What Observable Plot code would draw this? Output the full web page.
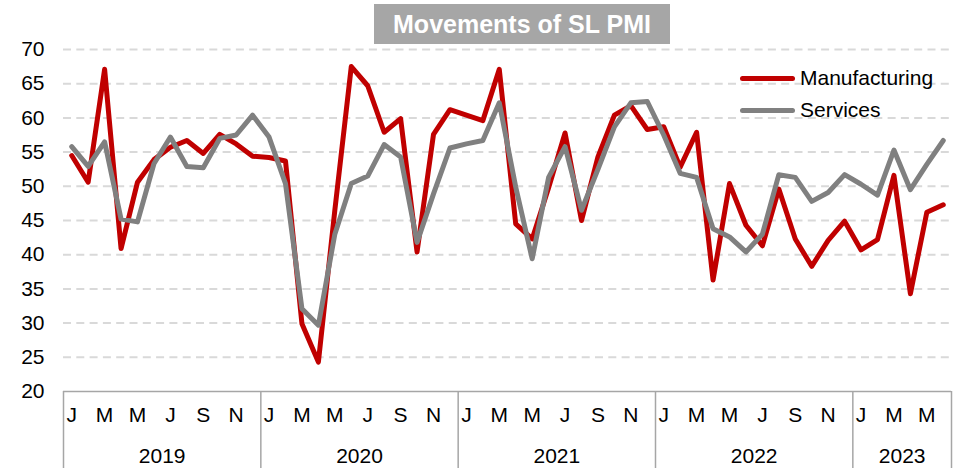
<!DOCTYPE html>
<html>
<head>
<meta charset="utf-8">
<script src="https://cdn.jsdelivr.net/npm/d3@7"></script>
<script src="https://cdn.jsdelivr.net/npm/@observablehq/plot@0.6"></script>
<style>
  html, body { margin: 0; padding: 0; background: #fff; }
  #wrap { position: relative; width: 956px; height: 468px; overflow: hidden; font-family: "Liberation Sans", Arial, sans-serif; }
  #title { position: absolute; left: 374px; top: 4px; width: 296px; height: 40px; background: #a6a6a6; color: #fff;
           font-weight: bold; font-size: 25px; display: flex; align-items: center; justify-content: center; z-index: 2; }
  .leg { position: absolute; left: 740px; height: 24px; display: flex; align-items: center; font-size: 21px; color: #000; z-index: 2; }
  .leg .sw { width: 55px; height: 5px; border-radius: 3px; margin-right: 5px; }
</style>
</head>
<body>
<div id="wrap">
  <div id="title">Movements of SL PMI</div>
  <div class="leg" style="top:66px"><div class="sw" style="background:#c00000"></div>Manufacturing</div>
  <div class="leg" style="top:98px"><div class="sw" style="background:#808080"></div>Services</div>
  <div id="chart"></div>
</div>
<script>
// Monthly values, Jan 2019 .. Jun 2023
const years = [2019, 2020, 2021, 2022, 2023];
const monthLetters = ["J","F","M","A","M","J","J","A","S","O","N","D"];
const manufacturing = [
  54.5, 50.6, 67.1, 40.9, 50.6, 53.9, 55.7, 56.7, 54.8, 57.6, 56.2, 54.4,
  54.2, 53.7, 29.9, 24.3, 46.5, 67.5, 64.7, 57.9, 59.9, 40.4, 57.6, 61.2,
  60.4, 59.6, 67.1, 44.5, 42.3, 49.8, 57.8, 45.0, 54.3, 60.4, 61.8, 58.3,
  58.7, 52.8, 57.9, 36.3, 50.4, 44.3, 41.3, 49.6, 42.3, 38.3, 42.1, 44.9,
  40.7, 42.2, 51.6, 34.3, 46.2, 47.3
];
const services = [
  55.8, 52.9, 56.5, 45.2, 44.8, 53.3, 57.2, 52.9, 52.7, 57.0, 57.5, 60.4,
  57.2, 50.4, 32.1, 29.7, 43.0, 50.4, 51.5, 56.1, 54.3, 41.8, 48.9, 55.6,
  56.2, 56.7, 62.2, 49.9, 39.4, 51.3, 55.8, 46.5, 52.5, 58.7, 62.2, 62.4,
  57.5, 51.9, 51.3, 43.8, 42.6, 40.4, 43.0, 51.7, 51.3, 47.8, 49.1, 51.7,
  50.3, 48.7, 55.3, 49.5, 53.2, 56.7
];
const yTicks = [20, 25, 30, 35, 40, 45, 50, 55, 60, 65, 70];

const n = manufacturing.length;
const mRows = manufacturing.map((v, i) => ({i, v}));
const sRows = services.map((v, i) => ({i, v}));
const monthTicks = d3.range(0, n, 2).map(i => ({i, label: monthLetters[i % 12]}));
const yearBounds = [-0.5, ...years.map((y, k) => Math.min(12 * k + 11.5, n - 0.5))];
const yearLabels = years.map((y, k) => ({
  i: ((12 * k - 0.5) + Math.min(12 * k + 11.5, n - 0.5)) / 2,
  label: String(y)
}));

const chart = Plot.plot({
  width: 956,
  height: 468,
  marginLeft: 63,
  marginRight: 5,
  marginTop: 49,
  marginBottom: 77,
  style: { fontFamily: '"Liberation Sans", Arial, sans-serif', fontSize: "21px", color: "#000", background: "transparent" },
  x: { type: "linear", domain: [-0.5, n - 0.5], axis: null },
  y: { domain: [20, 70], ticks: yTicks, tickSize: 0, tickPadding: 19, label: null, tickFormat: d => String(d) },
  marks: [
    Plot.ruleY(yTicks.filter(d => d > 20), { stroke: "#d9d9d9", strokeWidth: 2, strokeDasharray: "8,5.3" }),
    Plot.ruleY([20], { stroke: "#a6a6a6", strokeWidth: 1.5 }),
    Plot.ruleX(yearBounds, { x: d => d, y1: 20, y2: 20, insetBottom: -77, stroke: "#a6a6a6", strokeWidth: 1.5 }),
    Plot.line(mRows, { x: "i", y: "v", stroke: "#c00000", strokeWidth: 5, strokeLinejoin: "round", strokeLinecap: "round" }),
    Plot.line(sRows, { x: "i", y: "v", stroke: "#808080", strokeWidth: 5, strokeLinejoin: "round", strokeLinecap: "round" }),
    Plot.text(monthTicks, { x: "i", y: 20, text: "label", dy: 24, fontSize: 21, fill: "#000" }),
    Plot.text(yearLabels, { x: "i", y: 20, text: "label", dy: 65, fontSize: 21, fill: "#000" })
  ]
});
document.getElementById("chart").appendChild(chart);
</script>
</body>
</html>
